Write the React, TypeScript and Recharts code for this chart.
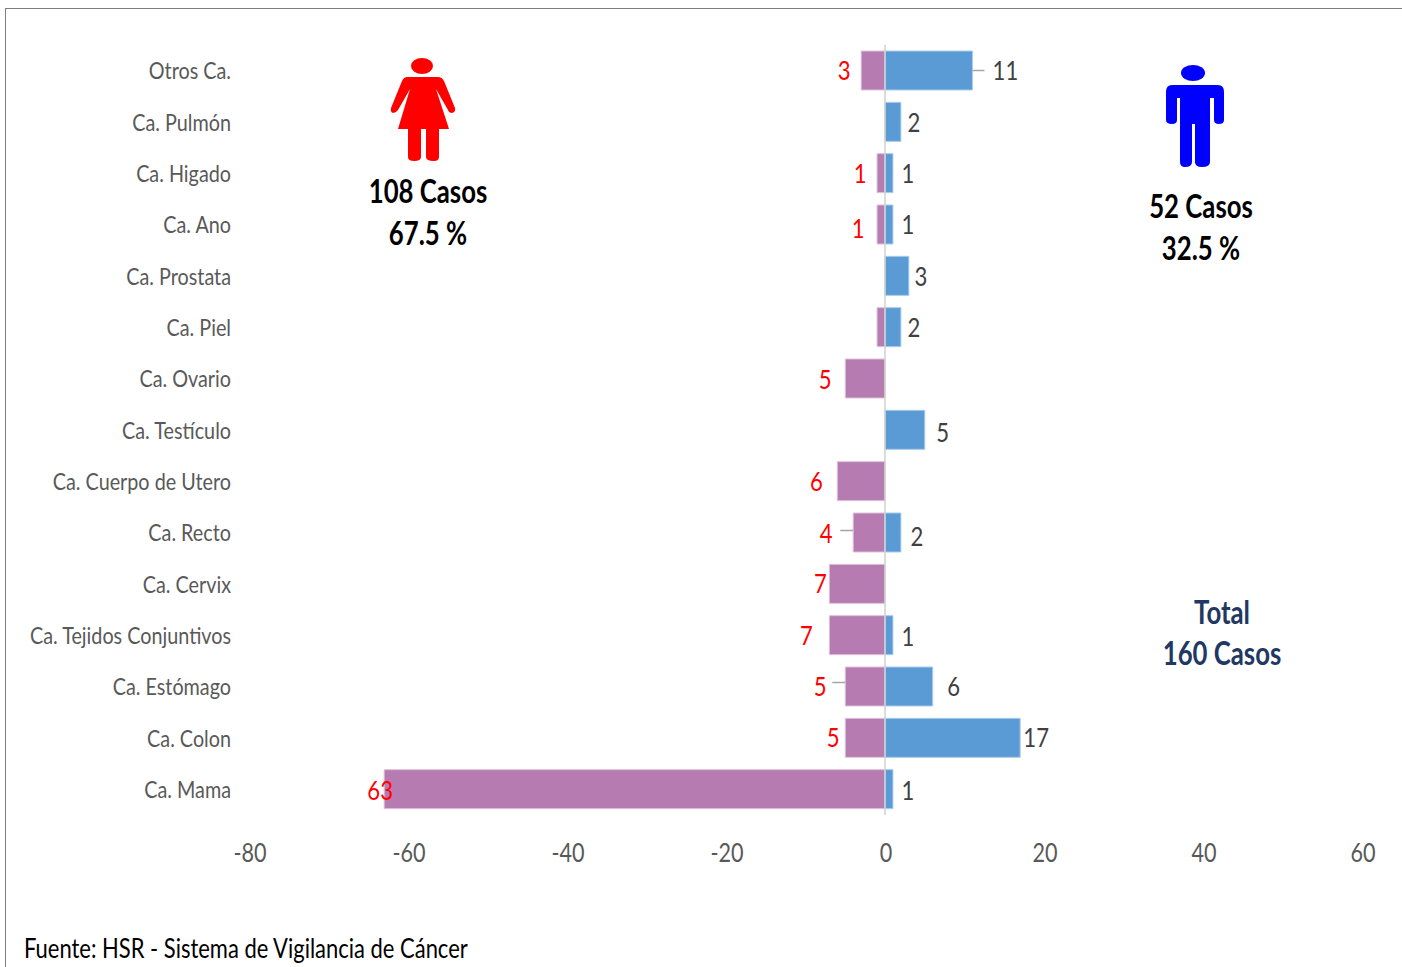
import React from "react";
import { BarChart, Bar, XAxis, YAxis, ReferenceLine, LabelList } from "recharts";

const categories = ["Otros Ca.", "Ca. Pulmón", "Ca. Higado", "Ca. Ano", "Ca. Prostata", "Ca. Piel", "Ca. Ovario", "Ca. Testículo", "Ca. Cuerpo de Utero", "Ca. Recto", "Ca. Cervix", "Ca. Tejidos Conjuntivos", "Ca. Estómago", "Ca. Colon", "Ca. Mama"];
const female = [3, 0, 1, 1, 0, 1, 5, 0, 6, 4, 7, 7, 5, 5, 63];
const male = [11, 2, 1, 1, 3, 2, 0, 5, 0, 2, 0, 1, 6, 17, 1];
const xTicks = [-80, -60, -40, -20, 0, 20, 40, 60];
const rows = categories.map((c, i) => ({ name: c, female: -female[i], male: male[i] }));

// hand-placed label offsets from the bar end (gap, dy), as in the original layout
const fGap = [17, 0, 17, 19, 0, 0, 20, 0, 21, 27, 9, 23, 25, 12, 4];
const fDy = [-1, 0, -1, 3, 0, 0, 0, 0, -1, 0, -1, -1, -1, -1, 0];
const mGap = [33, 13, 15, 15, 12, 13, 0, 18, 0, 16, 0, 15, 21, 16, 15];
const mDy = [-1, 0, -1, -1, 0, -1, 0, 2, 0, 3, 0, 0, -1, -1, 0];
const fLeaderIdx = [9, 12];
const fLeaderY = [-2, -4];
const mLeaderIdx = [0];

const FONT = "Lato, 'Open Sans', sans-serif";
const SX = 0.82;

const Squeezed = ({ x, y, anchor = "middle", fill, size, sx = SX, children }: any) => (
  <g transform={`translate(${x},${y}) scale(${sx},1)`}>
    <text x={0} y={0} textAnchor={anchor} dominantBaseline="central" fill={fill} fontSize={size} fontFamily={FONT}>
      {children}
    </text>
  </g>
);

const FemaleLabel = (p: any) => {
  const { x, y, width, height, value } = p;
  const index = categories.indexOf(value);
  if (female[index] === 0 || index === 5) return null;
  const left = Math.min(x, x + width);
  const cy = y + height / 2;
  const li = fLeaderIdx.indexOf(index);
  return (
    <g>
      {li >= 0 && <line x1={left - 13} x2={left} y1={cy + fLeaderY[li]} y2={cy + fLeaderY[li]} stroke="#a6a6a6" strokeWidth={1.5} />}
      <Squeezed x={left - fGap[index]} y={cy + fDy[index]} fill="#ff0000" size={27}>{female[index]}</Squeezed>
    </g>
  );
};

const MaleLabel = (p: any) => {
  const { x, y, width, height, value } = p;
  const index = categories.indexOf(value);
  if (male[index] === 0) return null;
  const right = x + width;
  const cy = y + height / 2;
  return (
    <g>
      {mLeaderIdx.includes(index) && <line x1={right} x2={right + 12} y1={cy} y2={cy} stroke="#a6a6a6" strokeWidth={1.5} />}
      <Squeezed x={right + mGap[index]} y={cy + mDy[index]} fill="#404040" size={27}>{male[index]}</Squeezed>
    </g>
  );
};

const XTick = ({ x, y, payload }: any) => (
  <Squeezed x={x + 1} y={y + 11} fill="#595959" size={27} sx={0.8}>{payload.value}</Squeezed>
);

const YTick = ({ x, y, payload }: any) => (
  <Squeezed x={x + 6} y={y} anchor="end" fill="#595959" size={23} sx={0.86}>{payload.value}</Squeezed>
);

const Note = ({ x, y, color = "#000", size = 33, children }: any) => (
  <div style={{ position: "absolute", left: x - 150, top: y - 26, width: 300, height: 50, lineHeight: "50px", textAlign: "center", color, fontSize: size, fontWeight: 700, fontFamily: FONT, whiteSpace: "nowrap", transform: "scaleX(0.78)" }}>
    {children}
  </div>
);

export default function App() {
  return (
    <div style={{ position: "absolute", left: 0, top: 0, width: 1402, height: 967, overflow: "hidden", background: "#fff" }}>
      <div style={{ position: "absolute", left: 5, top: 8, width: 1397, height: 959, borderTop: "1.5px solid #7f7f7f", borderLeft: "1.5px solid #7f7f7f", boxSizing: "border-box" }} />
      <div style={{ position: "absolute", left: 0, top: 0 }}>
        <BarChart width={1402} height={889} data={rows} layout="vertical" stackOffset="sign" margin={{ top: 45, right: 40, bottom: 0, left: 0 }}>
          <XAxis type="number" domain={[-80, 60]} ticks={xTicks} axisLine={false} tickLine={false} height={74} tickMargin={20} interval={0} tick={<XTick />} />
          <YAxis type="category" dataKey="name" width={249} axisLine={false} tickLine={false} tickMargin={18} interval={0} tick={<YTick />} />
          <Bar dataKey="female" stackId="a" barSize={39} fill="#b67bb1" stroke="#dcc3da" strokeWidth={1} isAnimationActive={false}>
            <LabelList dataKey="name" content={FemaleLabel} />
          </Bar>
          <Bar dataKey="male" stackId="a" barSize={39} fill="#5b9bd5" stroke="#a9cbe9" strokeWidth={1} isAnimationActive={false}>
            <LabelList dataKey="name" content={MaleLabel} />
          </Bar>
          <ReferenceLine x={0} stroke="#d0d0d0" strokeWidth={1.5} />
        </BarChart>
      </div>
      <svg width={1402} height={967} style={{ position: "absolute", left: 0, top: 0, pointerEvents: "none" }}>
        <g fill="#ff0000">
          <ellipse cx={422} cy={66} rx={11} ry={8} />
          <path d="M407 77 H438 Q442 77 444 81 L455 108 Q456 112 452 113 Q449 113 448 110 L436 89 L449 129 H439 V157 Q439 161 434 161 Q426 161 426 157 V129 H421 V157 Q421 161 414 161 Q408 161 408 157 V129 H398 L410 89 L398 110 Q396 113 393 113 Q390 112 391 108 L402 81 Q404 77 407 77 Z" />
        </g>
        <g fill="#0000ff">
          <ellipse cx={1193} cy={73} rx={12} ry={8} />
          <path d="M1172 85 H1218 Q1224 85 1224 92 V120 Q1224 124 1219 124 Q1214 124 1214 120 V98 H1210 V162 Q1210 167 1202 167 Q1195 167 1195 162 V124 H1192 V162 Q1192 167 1185 167 Q1180 167 1180 162 V98 H1177 V120 Q1177 124 1172 124 Q1166 124 1166 120 V92 Q1166 85 1172 85 Z" />
        </g>
      </svg>
      <Note x={428} y={191}>108 Casos</Note>
      <Note x={428} y={233}>67.5 %</Note>
      <Note x={1201} y={206}>52 Casos</Note>
      <Note x={1201} y={248}>32.5 %</Note>
      <Note x={1222} y={612} color="#1f3864">Total</Note>
      <Note x={1222} y={653} color="#1f3864">160 Casos</Note>
      <div style={{ position: "absolute", left: 24, top: 931, lineHeight: "34px", fontSize: 27, color: "#000", fontFamily: FONT, whiteSpace: "nowrap", transform: "scaleX(0.813)", transformOrigin: "left center" }}>
        Fuente: HSR - Sistema de Vigilancia de Cáncer
      </div>
    </div>
  );
}
